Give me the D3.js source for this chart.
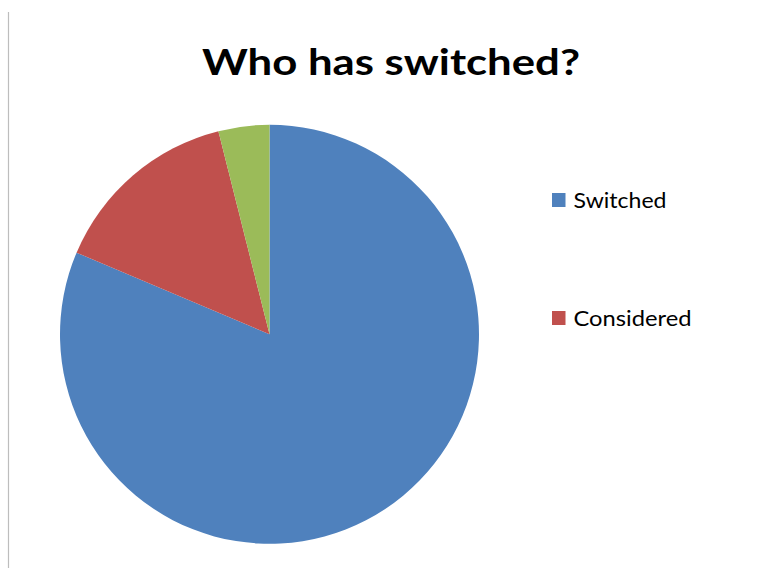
<!DOCTYPE html>
<html>
<head>
<meta charset="utf-8">
<script src="https://cdn.jsdelivr.net/npm/d3@7"></script>
<style>
  html, body { margin: 0; padding: 0; background: #fff; }
  svg { display: block; }
  text { font-family: Lato, "Open Sans", sans-serif; fill: #000; }
</style>
</head>
<body>
<svg id="chart" width="768" height="568"></svg>
<script>
// Survey responses
const categories = ["Switched", "Considered", "Not considered"];
const counts = [83, 15, 4];
const colors = ["#4F81BD", "#C0504D", "#9BBB59"];
const legendCount = 2; // entries shown in the legend
const title = "Who has switched?";

const svg = d3.select("#chart");
const W = 768, H = 568;

// left frame edge of the chart area
svg.append("line")
  .attr("x1", 8.5).attr("x2", 8.5)
  .attr("y1", 12).attr("y2", H)
  .attr("stroke", "#bdbdbd").attr("stroke-width", 1.2);

// title
svg.append("text")
  .attr("x", 202).attr("y", 74.5)
  .attr("font-size", 37)
  .attr("font-weight", "bold")
  .attr("textLength", 378)
  .attr("lengthAdjust", "spacingAndGlyphs")
  .text(title);

// pie
const cx = 269.5, cy = 334.3, r = 209.5;
const color = d3.scaleOrdinal().domain(categories).range(colors);
const data = categories.map((c, i) => ({ name: c, value: counts[i] }));
const pie = d3.pie().sort(null).value(d => d.value);
const arc = d3.arc().innerRadius(0).outerRadius(r);

svg.append("g")
  .attr("transform", `translate(${cx},${cy})`)
  .selectAll("path")
  .data(pie(data))
  .join("path")
  .attr("d", arc)
  .attr("fill", d => color(d.data.name));

// legend
const legendY = d3.scalePoint()
  .domain(categories.slice(0, legendCount))
  .range([207.5, 325.5]);
const textWidths = { "Switched": 93, "Considered": 118 };

const lg = svg.append("g")
  .selectAll("g")
  .data(categories.slice(0, legendCount))
  .join("g")
  .attr("transform", d => `translate(0,${legendY(d)})`);

lg.append("rect")
  .attr("x", 552).attr("y", -14.5)
  .attr("width", 13.5).attr("height", 14)
  .attr("fill", d => color(d));

lg.append("text")
  .attr("x", 573.5).attr("y", 0)
  .attr("font-size", 21.5)
  .attr("textLength", d => textWidths[d])
  .attr("lengthAdjust", "spacingAndGlyphs")
  .text(d => d);
</script>
</body>
</html>
